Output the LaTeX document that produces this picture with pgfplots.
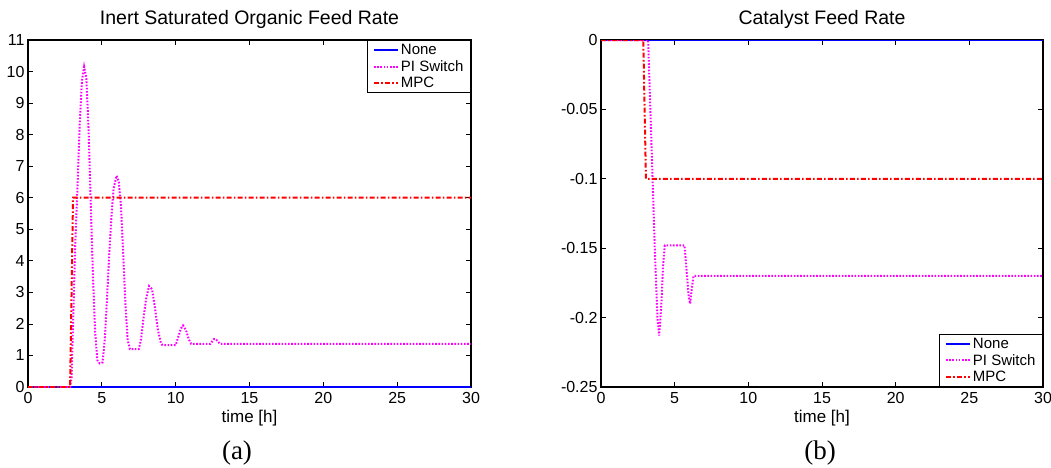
\documentclass[border=0pt]{standalone}
\usepackage{pgfplots}
\pgfplotsset{compat=1.18}
\usepackage{fontspec}
\setmainfont{Liberation Sans}
\newfontfamily\timesfont{Liberation Serif}
\definecolor{mblue}{RGB}{0,0,255}
\definecolor{mmag}{RGB}{255,0,255}
\definecolor{mred}{RGB}{255,0,0}
\pgfplotsset{
  myaxis/.style={
    width=443pt, height=347pt, scale only axis,
    anchor=south west,
    xmin=0, xmax=30, xtick={0,5,...,30},
    tick align=inside, tick pos=both, major tick length=5pt,
    axis line style={line width=1.1pt},
    every tick/.style={black, line width=0.8pt},
    ticklabel style={font=\fontsize{16}{18}\selectfont},
    xticklabel style={yshift=-2pt},
    /pgf/number format/assume math mode=true,
    title style={font=\fontsize{19.5}{22}\selectfont, at={(0.5,1)}, anchor=south, yshift=2pt},
    xlabel={time [h]},
    xlabel style={font=\fontsize{17}{19}\selectfont, yshift=1pt},
    legend style={font=\fontsize{15}{16}\selectfont, draw=black, line width=1pt, fill=white,
      inner xsep=5pt, inner ysep=2pt, row sep=0pt, legend cell align=left,
      nodes={inner sep=2pt}},
    legend image code/.code={\draw[#1] (0pt,0pt) -- (24pt,0pt);},
  },
  nonestyle/.style={mblue, line width=2pt},
  pistyle/.style={mmag, line width=2pt, dash pattern=on 1.6pt off 1.6pt},
  mpcstyle/.style={mred, line width=2pt, dash pattern=on 5pt off 2.2pt on 1.6pt off 2.2pt},
}
\begin{document}
\begin{tikzpicture}[x=1pt,y=1pt]
\useasboundingbox (0,0) rectangle (1051,467);
% ---------- (a)
\begin{axis}[myaxis, at={(28pt,80pt)},
  ymin=0, ymax=11, ytick={0,1,...,11},
  yticklabels={0,1,2,3,4,5,6,7,8,9,10,11},
  xticklabels={0,5,10,15,20,25,30},
  title={Inert Saturated Organic Feed Rate},
  legend style={at={(1,1)}, anchor=north east}]
\addplot[nonestyle] coordinates {(0,0) (30,0)};
\addlegendentry{None}
\addplot[pistyle] coordinates {
(0,0) (2.85,0) (2.95,0.3) (3.05,2) (3.2,4.5) (3.35,6.3) (3.5,8.3) (3.65,9.7) (3.8,10.15)
(3.95,9.8) (4.1,8.2) (4.25,5.8) (4.4,3.5) (4.55,1.7) (4.7,0.85) (4.85,0.75) (5.05,0.78)
(5.2,1.5) (5.35,2.8) (5.5,4.2) (5.65,5.4) (5.8,6.3) (6.0,6.7) (6.15,6.5) (6.3,5.7)
(6.45,4.2) (6.6,2.6) (6.75,1.5) (6.9,1.2) (7.5,1.2) (7.65,1.5) (7.8,2.1) (8.0,2.8)
(8.2,3.2) (8.4,3.1) (8.6,2.5) (8.8,1.8) (9.0,1.4) (9.1,1.33) (10.0,1.33) (10.15,1.55)
(10.35,1.85) (10.5,1.95) (10.7,1.8) (10.9,1.5) (11.05,1.37) (12.35,1.37) (12.6,1.52)
(12.75,1.5) (13.0,1.37) (30,1.37)};
\addlegendentry{PI Switch}
\addplot[mpcstyle] coordinates {(0,0) (2.85,0) (2.95,3) (3.05,6) (30,6)};
\addlegendentry{MPC}
\end{axis}
% ---------- (b)
\begin{axis}[myaxis, at={(601pt,80pt)}, width=442pt,
  ymin=-0.25, ymax=0, ytick={-0.25,-0.2,-0.15,-0.1,-0.05,0},
  yticklabels={-0.25,-0.2,-0.15,-0.1,-0.05,0},
  xticklabels={0,5,10,15,20,25,30},
  title={Catalyst Feed Rate},
  legend style={at={(1,0)}, anchor=south east}]
\addplot[nonestyle] coordinates {(0,0) (30,0)};
\addlegendentry{None}
\addplot[pistyle] coordinates {
(0,0) (3.2,0) (3.35,-0.05) (3.5,-0.1) (3.65,-0.15) (3.83,-0.2) (3.95,-0.213)
(4.1,-0.19) (4.2,-0.165) (4.33,-0.148) (5.67,-0.148) (5.8,-0.165) (5.95,-0.185)
(6.05,-0.19) (6.15,-0.18) (6.28,-0.17) (30,-0.17)};
\addlegendentry{PI Switch}
\addplot[mpcstyle] coordinates {(0,0) (2.87,0) (3.05,-0.1) (30,-0.1)};
\addlegendentry{MPC}
\end{axis}
\node[font=\timesfont\fontsize{27}{30}\selectfont] at (237,14) {(a)};
\node[font=\timesfont\fontsize{27}{30}\selectfont] at (820,14) {(b)};
\end{tikzpicture}
\end{document}
